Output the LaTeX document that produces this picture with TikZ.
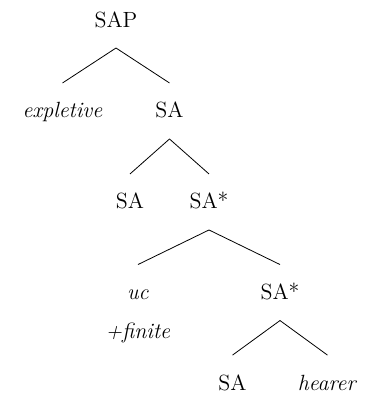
\documentclass[tikz,border=0pt]{standalone}
\usetikzlibrary{calc}
\begin{document}
\begin{tikzpicture}[level distance=49.3pt,
	every node/.style={anchor=base,font=\fontsize{11}{13}\selectfont},
	edge from parent path={($(\tikzparentnode.base)+(0,-10.5pt)$) -- ($(\tikzchildnode.base)+(0,17.5pt)$)},
	level 1/.style={sibling distance=53.5pt},
	level 2/.style={sibling distance=39.5pt},
	level 3/.style={sibling distance=71pt},
	level 4/.style={sibling distance=47.5pt}]
\useasboundingbox (-58pt,13.5pt) rectangle (127pt,-185pt);
\node(sap){SAP}
  child{
    node(expl){\textit{expletive}}
  }
  child{
    node(sa){SA}
    	child{
    		node(sainner){SA}
    	}
    	child{
    		node(sastar){SA*}
    			child{
    				node(uc){\begin{tabular}[t]{@{}c@{}}\textit{uc}\\[6.5pt]\textit{+finite}\end{tabular}}
    			}
    			child{
    				node(sastarlow){SA*}
    					child{
    						node(salow){SA}
    					}
    					child{
    						node(hearer){\textit{hearer}}
    					}
    			}
    	}
  };
\end{tikzpicture}
\end{document}
